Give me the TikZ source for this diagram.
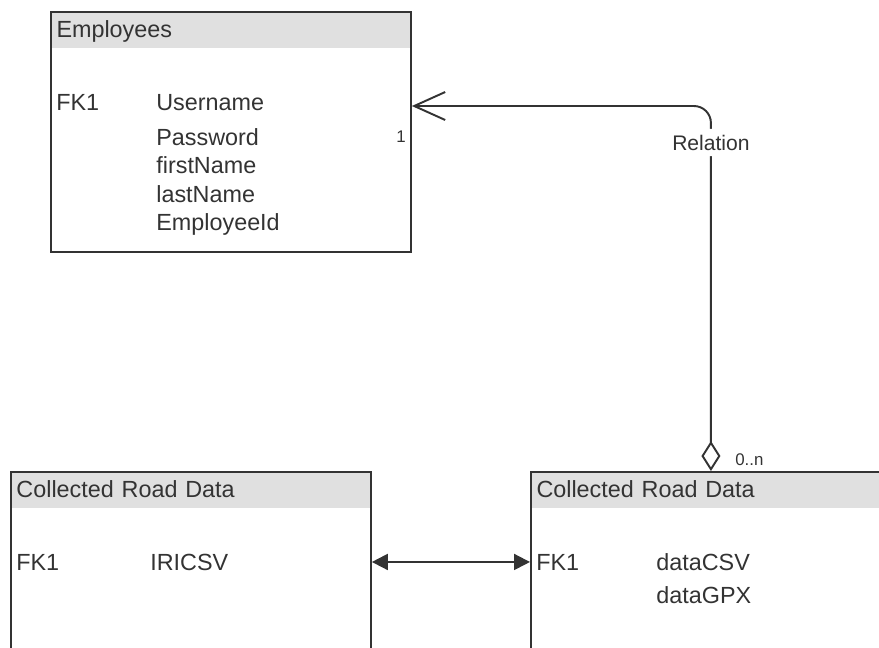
\documentclass[tikz,border=0pt]{standalone}
\usepackage{fontspec}
\setmainfont{Liberation Sans}
\usetikzlibrary{positioning, arrows.meta}
\definecolor{hdrgray}{RGB}{224,224,224}
\definecolor{ink}{RGB}{51,51,51}
\tikzset{
	entity/.style={draw=ink, line width=1.1pt, minimum width=7.2cm, anchor=north west},
	title/.style={fill=hdrgray, minimum width=7.2cm, minimum height=0.74cm, text width=6.94cm, inner xsep=0.13cm, inner ysep=0pt, outer sep=0pt, text height=0.336cm, text depth=0pt, align=left, anchor=north west, text=ink, font=\fontsize{13.3}{16}\selectfont},
	field/.style={anchor=base west, inner sep=0pt, text=ink, font=\fontsize{13.3}{16}\selectfont},
	card/.style={inner sep=0pt, text=ink, font=\fontsize{9.6}{11}\selectfont},
	relation/.style={draw=ink, line width=1.1pt, rounded corners=0.34cm, {Diamond[length=0.6cm, width=0.38cm, fill=white]}-{Straight Barb[length=0.62cm, width=0.56cm]}},
	link/.style={draw=ink, line width=1.1pt, {Triangle[length=0.32cm, width=0.32cm]}-{Triangle[length=0.32cm, width=0.32cm]}}
}

\begin{document}
\begin{tikzpicture}[x=0.02cm, y=-0.02cm]
	\useasboundingbox (0,0) rectangle (879,647);
	\clip (0,0) rectangle (879,647);

	\node[title] (EmpTitle) at (50,11) {Employees};
	\node[entity, minimum height=4.8cm] (Employees) at (EmpTitle.north west) {};
	\node[title] (RoadLeftTitle) at (10,471) {Collected Road Data};
	\node[entity, minimum height=10cm] (RoadLeft) at (RoadLeftTitle.north west) {};
	\node[title] (RoadRightTitle) at (530,471) {Collected Road Data};
	\node[entity, minimum height=10cm] (RoadRight) at (RoadRightTitle.north west) {};

	\node[field] (EmpKey) at (56,110) {FK1};
	\node[field] (Username) at (156,110) {Username};
	\node[field] (Password) at (156,145) {Password};
	\node[field] (firstName) at (156,173) {firstName};
	\node[field] (lastName) at (156,202) {lastName};
	\node[field] (EmployeeId) at (156,230) {EmployeeId};

	\node[field] (LeftKey) at (16,570) {FK1};
	\node[field] (IRICSV) at (150,570) {IRICSV};

	\node[field] (RightKey) at (536,570) {FK1};
	\node[field] (dataCSV) at (656,570) {dataCSV};
	\node[field] (dataGPX) at (656,603) {dataGPX};

	\draw[relation] (RoadRight.north) |- node[pos=0.45, fill=white, text=ink, font=\fontsize{12}{14}\selectfont] (Relation) {Relation} ([yshift=0.08cm]Username.base -| Employees.east);
	\node[card, anchor=base] (One) at (401,142) {1};
	\node[card, anchor=base west] (Many) at (735,465) {0..n};

	\draw[link] (RoadLeft.east |- LeftKey) -- (RoadRight.west |- LeftKey);
\end{tikzpicture}
\end{document}
